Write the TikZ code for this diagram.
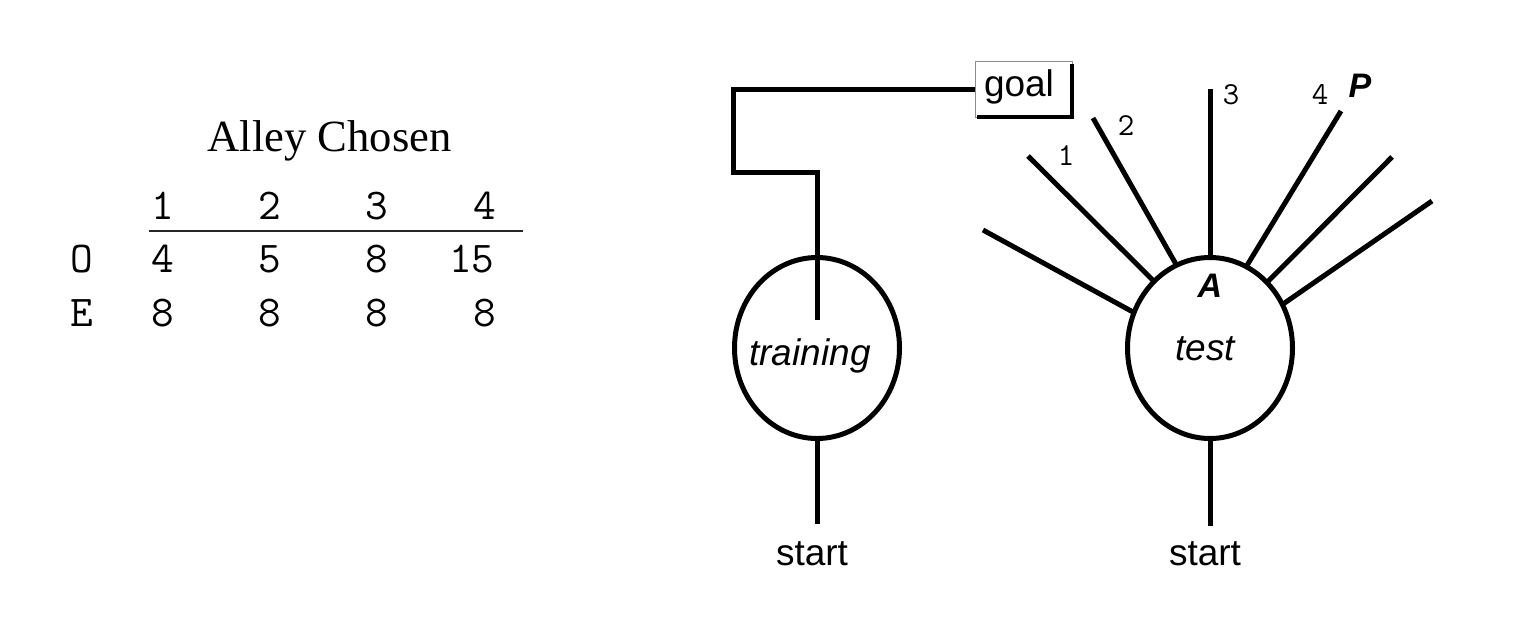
\documentclass[tikz,border=0pt]{standalone}
\usepackage{fontspec}
\setmainfont{Liberation Serif}
\newfontfamily\arialf{Liberation Sans}
\usetikzlibrary{shapes.geometric}
\begin{document}
\begin{tikzpicture}[x=1pt,y=-1pt,
  wall/.style={line width=5pt, line join=miter},
  room/.style={draw, ellipse, line width=5pt, minimum width=165pt, minimum height=181pt, inner sep=0pt, outer sep=0pt},
  lab/.style={font=\arialf\fontsize{37}{40}\selectfont, inner sep=0pt, anchor=base},
  bilab/.style={font=\arialf\bfseries\itshape\fontsize{34}{38}\selectfont, inner sep=0pt, anchor=base},
  armnum/.style={font=\ttfamily\fontsize{32}{34}\selectfont, inner sep=0pt, anchor=base},
  tnum/.style={font=\ttfamily\fontsize{44}{46}\selectfont, inner sep=0pt, anchor=base},
  ttl/.style={font=\fontsize{44.6}{48}\selectfont, inner sep=0pt, anchor=base}]
\useasboundingbox (0,0) rectangle (1532,638);

% ---- table ----
\node[ttl] (title) at (329.5,151.7) {Alley Chosen};
\node[tnum] (h1) at (163,219) {1};
\node[tnum] (h2) at (270,219) {2};
\node[tnum] (h3) at (377,219) {3};
\node[tnum] (h4) at (485,219) {4};
\draw[line width=2pt, black!85] (149,230.7) -- (523,230.7);
\node[tnum] (o0) at (82,272.7) {O};
\node[tnum] (o1) at (163,272.7) {4};
\node[tnum] (o2) at (270,272.7) {5};
\node[tnum] (o3) at (377,272.7) {8};
\node[tnum] (o4) at (471.7,272.7) {15};
\node[tnum] (e0) at (82,326.7) {E};
\node[tnum] (e1) at (163,326.7) {8};
\node[tnum] (e2) at (270,326.7) {8};
\node[tnum] (e3) at (377,326.7) {8};
\node[tnum] (e4) at (485,326.7) {8};

% ---- training maze ----
\node[room] (train) at (817,348) {};
\node[lab, font=\arialf\itshape\fontsize{37}{40}\selectfont] (traintxt) at (810,365) {training};
\node[draw=black!45, line width=1pt, minimum width=97pt, minimum height=56pt, inner sep=0pt, outer sep=0pt] (gbox) at (1023.5,89) {};
\node[lab] (goal) at (1019,96) {goal};
\draw[line width=4pt] (1072,64) |- (977,117);
\coordinate (c1) at (733,172);
\coordinate (tin) at (817,320);
\draw[wall] (gbox.west) -| (c1) -| (tin);
\node[lab] (start1) at (812,565) {start};
\coordinate (s1top) at (817,524);
\draw[wall] (train.south) -- (s1top);

% ---- test maze ----
\node[room] (test) at (1210,348) {};
\node[lab, font=\arialf\itshape\fontsize{37}{40}\selectfont] (testtxt) at (1205,360) {test};
\node[bilab] (A) at (1210,297) {A};
\node[bilab] (P) at (1360,97) {P};
\node[lab] (start2) at (1205,565) {start};
\coordinate (s2top) at (1210,526);
\draw[wall] (test.south) -- (s2top);

\coordinate (aL) at (983,230);
\coordinate (a1) at (1028,156);
\coordinate (a2) at (1093,118);
\coordinate (a3) at (1210,89);
\coordinate (a4) at (1341,111);
\coordinate (aR1) at (1392,157);
\coordinate (aR2) at (1432,201);
\foreach \ang/\pt in {155.8/aL, 130/a1, 112.1/a2, 90/a3, 66.7/a4, 49.8/aR1, 31/aR2}
  \draw[wall] (test.\ang) -- (\pt);

\node[armnum] (n1) at (1066,165) {1};
\node[armnum] (n2) at (1126,135) {2};
\node[armnum] (n3) at (1231,104) {3};
\node[armnum] (n4) at (1320,104) {4};
\end{tikzpicture}
\end{document}
